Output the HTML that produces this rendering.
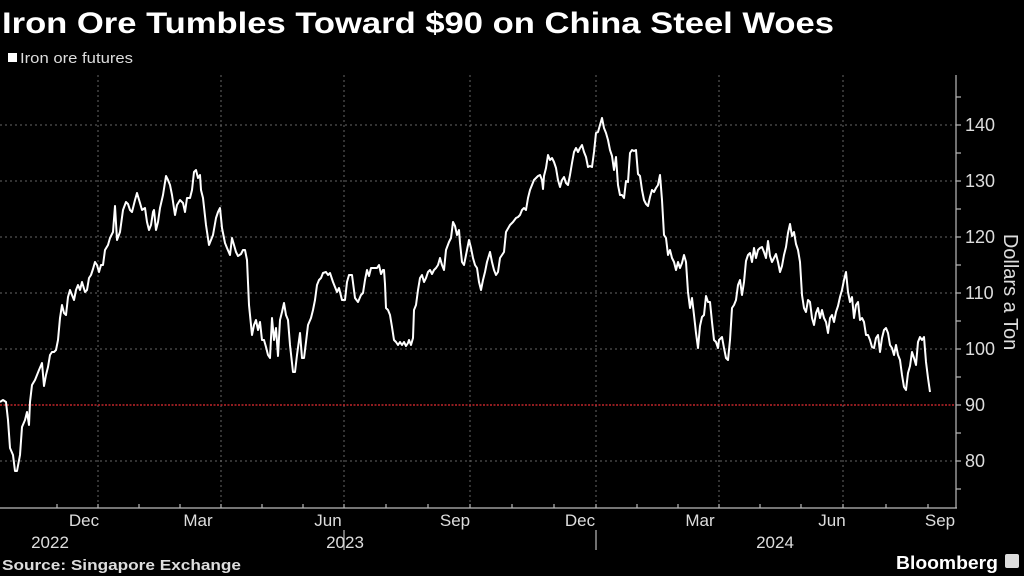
<!DOCTYPE html>
<html><head><meta charset="utf-8"><style>
html,body{margin:0;padding:0;background:#000;width:1024px;height:576px;overflow:hidden;font-family:"Liberation Sans",sans-serif;color:#fff}
</style></head><body>
<svg width="1024" height="576" viewBox="0 0 1024 576" xmlns="http://www.w3.org/2000/svg">
<rect width="1024" height="576" fill="#000"/>
<text x="2" y="33" font-size="30" font-weight="bold" fill="#fff" textLength="832" lengthAdjust="spacingAndGlyphs">Iron Ore Tumbles Toward $90 on China Steel Woes</text>
<rect x="8" y="53" width="9" height="9" fill="#fff"/>
<text x="20" y="63" font-size="15" fill="#ddd" textLength="113" lengthAdjust="spacingAndGlyphs">Iron ore futures</text>
<g stroke="#666" stroke-width="1" stroke-dasharray="2,3">
<line x1="0" y1="125" x2="956" y2="125"/><line x1="0" y1="181" x2="956" y2="181"/><line x1="0" y1="237" x2="956" y2="237"/><line x1="0" y1="293" x2="956" y2="293"/><line x1="0" y1="349" x2="956" y2="349"/><line x1="0" y1="461" x2="956" y2="461"/>
<line x1="98" y1="75" x2="98" y2="508"/><line x1="221" y1="75" x2="221" y2="508"/><line x1="344" y1="75" x2="344" y2="508"/><line x1="470" y1="75" x2="470" y2="508"/><line x1="596" y1="75" x2="596" y2="508"/><line x1="719" y1="75" x2="719" y2="508"/><line x1="843" y1="75" x2="843" y2="508"/>
</g>
<line x1="0" y1="405" x2="956" y2="405" stroke="#c0262b" stroke-width="1.5" stroke-dasharray="2,1.5"/>
<g stroke="#bbb" stroke-width="1.2">
<line x1="0" y1="508" x2="957" y2="508"/><line x1="956" y1="75" x2="956" y2="508"/>
<line x1="956" y1="125" x2="961" y2="125"/><line x1="956" y1="181" x2="961" y2="181"/><line x1="956" y1="237" x2="961" y2="237"/><line x1="956" y1="293" x2="961" y2="293"/><line x1="956" y1="349" x2="961" y2="349"/><line x1="956" y1="405" x2="961" y2="405"/><line x1="956" y1="461" x2="961" y2="461"/>
<line x1="956" y1="97" x2="961" y2="97"/><line x1="956" y1="153" x2="961" y2="153"/><line x1="956" y1="209" x2="961" y2="209"/><line x1="956" y1="265" x2="961" y2="265"/><line x1="956" y1="321" x2="961" y2="321"/><line x1="956" y1="377" x2="961" y2="377"/><line x1="956" y1="433" x2="961" y2="433"/><line x1="956" y1="489" x2="961" y2="489"/>
<line x1="57" y1="508" x2="57" y2="504"/><line x1="98" y1="508" x2="98" y2="504"/><line x1="139" y1="508" x2="139" y2="504"/><line x1="180" y1="508" x2="180" y2="504"/><line x1="221" y1="508" x2="221" y2="504"/><line x1="262" y1="508" x2="262" y2="504"/><line x1="303" y1="508" x2="303" y2="504"/><line x1="344" y1="508" x2="344" y2="504"/><line x1="386" y1="508" x2="386" y2="504"/><line x1="428" y1="508" x2="428" y2="504"/><line x1="470" y1="508" x2="470" y2="504"/><line x1="512" y1="508" x2="512" y2="504"/><line x1="554" y1="508" x2="554" y2="504"/><line x1="596" y1="508" x2="596" y2="504"/><line x1="637" y1="508" x2="637" y2="504"/><line x1="678" y1="508" x2="678" y2="504"/><line x1="719" y1="508" x2="719" y2="504"/><line x1="760" y1="508" x2="760" y2="504"/><line x1="801" y1="508" x2="801" y2="504"/><line x1="843" y1="508" x2="843" y2="504"/><line x1="886" y1="508" x2="886" y2="504"/><line x1="928" y1="508" x2="928" y2="504"/>
<line x1="344" y1="530" x2="344" y2="550"/><line x1="596" y1="530" x2="596" y2="550"/>
</g>
<g font-size="18" fill="#ddd">
<text x="965" y="131">140</text><text x="965" y="187">130</text><text x="965" y="243">120</text><text x="965" y="299">110</text><text x="965" y="355">100</text><text x="965" y="411">90</text><text x="965" y="467">80</text>
</g>
<text transform="translate(1004,292) rotate(90)" text-anchor="middle" font-size="20" fill="#ddd">Dollars a Ton</text>
<g font-size="17" fill="#ddd" text-anchor="middle">
<text x="84" y="526">Dec</text><text x="198" y="526">Mar</text><text x="328" y="526">Jun</text><text x="455" y="526">Sep</text><text x="580" y="526">Dec</text><text x="700" y="526">Mar</text><text x="832" y="526">Jun</text><text x="940" y="526">Sep</text>
<text x="50" y="548">2022</text><text x="345" y="548">2023</text><text x="775" y="548">2024</text>
</g>
<text x="2" y="570" font-size="15" font-weight="bold" fill="#ddd" textLength="239" lengthAdjust="spacingAndGlyphs">Source: Singapore Exchange</text>
<text x="896" y="569" font-size="18" font-weight="bold" fill="#fff" textLength="102" lengthAdjust="spacingAndGlyphs">Bloomberg</text>
<rect x="1005" y="554" width="14" height="14" rx="2" fill="#ddd"/>
<polyline fill="none" stroke="#fff" stroke-width="2" stroke-linejoin="round" points="0,402 3,400 6,402 8,420 10,448 13,455 15,471 17,471 20,455 22,427 25,420 27,412 29,425 30,402 32,385 35,380 37,375 39,370 42,363 44,386 46,375 48,367 50,355 52,352 54,352 56,350 58,340 60,318 62,305 64,313 66,315 68,297 70,290 72,295 74,300 76,290 78,285 80,290 82,282 85,292 87,290 89,278 91,275 93,269 95,262 97,265 99,272 101,265 103,265 105,250 108,245 110,238 113,232 115,206 117,240 120,232 123,210 126,202 128,204 130,210 132,212 135,200 137,193 140,203 142,210 145,208 147,222 149,230 151,225 153,212 154,210 156,230 158,222 160,208 163,195 166,176 168,180 170,185 172,195 175,215 177,205 180,200 183,203 185,212 187,198 190,198 192,190 194,172 196,170 198,178 200,175 201,190 203,198 206,225 209,245 211,240 213,235 216,218 218,212 220,208 222,228 225,243 227,248 230,255 232,238 234,245 236,252 238,256 241,254 243,250 245,250 247,260 249,305 252,335 254,325 256,320 258,330 260,322 262,340 264,340 266,347 268,355 270,358 272,318 274,340 276,328 278,356 280,320 282,312 284,303 286,315 288,320 290,345 293,372 295,372 297,355 300,333 302,358 304,358 306,342 308,325 311,318 313,310 315,300 317,285 319,280 321,278 323,273 326,272 328,275 330,273 333,282 337,292 339,288 342,300 345,300 347,282 349,275 352,275 355,298 358,302 361,295 363,293 365,280 367,270 369,276 371,268 374,268 377,268 379,265 381,274 383,270 384,270 385,284 386,308 388,310 390,315 392,327 394,340 396,342 398,345 400,342 402,345 404,342 406,346 408,343 409,340 411,345 413,338 414,310 416,305 418,290 420,278 422,275 424,282 426,278 428,272 430,270 432,274 434,270 436,268 438,265 440,258 442,265 444,270 446,250 449,242 451,238 453,222 455,226 457,235 459,230 460,243 462,262 464,265 466,255 469,240 471,248 473,258 475,265 477,268 479,282 481,290 483,280 485,272 487,262 490,252 492,262 494,270 496,275 498,272 500,258 502,255 504,252 506,232 510,225 513,222 516,218 518,217 520,215 522,210 524,208 526,210 528,198 530,190 532,185 534,180 536,178 538,176 540,175 542,180 543,189 544,176 546,168 548,155 550,160 552,158 554,162 556,168 558,180 560,187 562,180 564,177 566,183 568,185 570,175 572,163 574,152 576,148 578,152 580,148 582,145 584,152 586,157 588,167 590,166 592,167 594,152 596,133 598,132 600,125 602,118 604,128 606,133 608,140 610,150 612,156 614,170 616,157 618,185 620,195 622,195 624,198 626,181 628,182 630,153 632,150 634,151 636,150 638,174 640,176 642,190 644,200 646,204 648,206 650,197 652,190 654,192 656,188 658,185 660,175 662,200 664,235 666,238 668,255 670,250 672,258 674,262 676,270 678,262 680,268 682,263 684,255 686,262 688,292 690,308 692,298 694,315 696,333 698,348 700,326 702,317 704,315 706,296 708,302 710,302 712,322 714,340 716,342 718,348 719,340 722,337 724,348 726,358 728,360 730,340 732,308 734,305 736,300 738,285 740,280 742,295 744,282 746,261 748,255 750,253 752,262 754,248 756,258 758,250 760,248 762,247 764,252 766,258 768,241 770,256 772,262 774,258 776,254 778,262 780,272 782,266 784,255 786,247 788,233 790,224 792,236 794,232 796,244 798,250 800,262 802,295 804,308 806,312 808,300 810,302 812,318 814,325 816,313 818,308 820,318 822,310 824,318 826,322 828,333 830,318 832,315 834,322 836,312 838,306 840,297 842,290 844,280 846,272 848,292 850,302 852,297 854,318 856,305 858,302 860,320 862,318 864,322 866,335 868,335 870,340 872,347 874,348 876,338 878,335 880,352 882,338 884,330 886,328 888,333 890,345 892,348 894,355 896,345 898,355 900,360 902,375 904,387 906,390 908,373 910,366 912,352 914,358 916,365 918,342 920,337 922,340 924,337 926,362 928,378 930,392"/>
</svg>
</body></html>
